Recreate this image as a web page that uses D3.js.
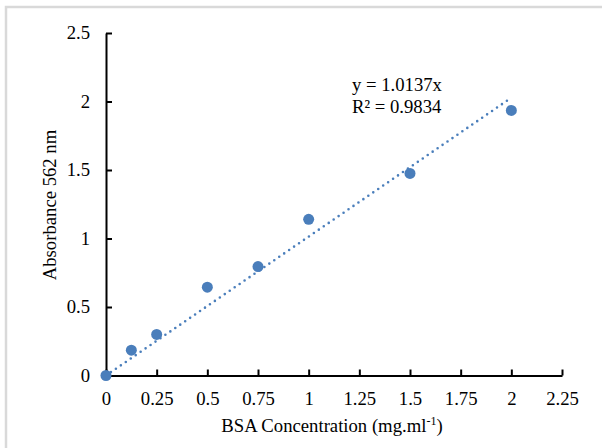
<!DOCTYPE html>
<html>
<head>
<meta charset="utf-8">
<script src="https://cdn.jsdelivr.net/npm/d3@7"></script>
<style>
  body { margin: 0; background: #fff; }
</style>
</head>
<body>
<svg id="chart"></svg>
<script>
// data
const concentration = [0, 0.125, 0.25, 0.5, 0.75, 1, 1.5, 2]
const absorbance = [0, 0.185, 0.30, 0.645, 0.795, 1.14, 1.475, 1.935]
const xTicks = [0, 0.25, 0.5, 0.75, 1, 1.25, 1.5, 1.75, 2, 2.25]
const yTicks = [0, 0.5, 1, 1.5, 2, 2.5]
const slope = 1.0137
const trendX = [0, 2]
const eqLines = ['y = 1.0137x', 'R² = 0.9834']

const
    width = 602,
    height = 448,
    plotLeft = 106, plotRight = 562,
    plotTop = 33, plotBottom = 375.5,
    fontSize = 18.7,
    blue = '#4a7ebb'

// pick the first serif face that is really installed
function pickSerif() {
    const ctx = document.createElement('canvas').getContext('2d')
    const probe = 'BSA Concentration 0.1234 Absorbance'
    const w = f => { ctx.font = `40px ${f}`; return ctx.measureText(probe).width }
    const candidates = ['Liberation Serif', 'Tinos', 'Times New Roman', 'DejaVu Serif', 'Noto Serif', 'FreeSerif']
    for (const c of candidates) {
        if (w(`"${c}", monospace`) !== w('monospace') && w(`"${c}", sans-serif`) !== w('sans-serif')) return `"${c}"`
    }
    return 'serif'
}
const serif = pickSerif()

let svg = d3.select('#chart')
    .attr('width', width)
    .attr('height', height)
    .style('font-family', serif)

// light frame (only top/left visible in the crop)
svg.append('path')
    .attr('d', `M6,${height} V7 H${width}`)
    .attr('fill', 'none')
    .attr('stroke', '#d9d9d9')
    .attr('stroke-width', 2.5)

let x = d3.scaleLinear().domain([0, 2.25]).range([plotLeft, plotRight])
let y = d3.scaleLinear().domain([0, 2.5]).range([plotBottom, plotTop])

// trendline
svg.append('line')
    .attr('x1', x(trendX[0])).attr('y1', y(slope * trendX[0]))
    .attr('x2', x(trendX[1])).attr('y2', y(slope * trendX[1]))
    .attr('stroke', blue)
    .attr('stroke-width', 2.6)
    .attr('stroke-linecap', 'round')
    .attr('stroke-dasharray', '0 6')

// axes
let xAxis = svg.append('g')
    .attr('transform', `translate(0,${plotBottom})`)
    .call(d3.axisBottom(x).tickValues(xTicks).tickSizeInner(-6).tickSizeOuter(0).tickPadding(16)
        .tickFormat(d => d3.format('')(d)))
let yAxis = svg.append('g')
    .attr('transform', `translate(${plotLeft},0)`)
    .call(d3.axisLeft(y).tickValues(yTicks).tickSizeInner(-6).tickSizeOuter(0).tickPadding(16)
        .tickFormat(d => d3.format('')(d)))

for (const g of [xAxis, yAxis]) {
    g.attr('font-family', serif).attr('font-size', fontSize)
    g.select('.domain').attr('stroke', '#000').attr('stroke-width', 2)
    g.selectAll('.tick line').attr('stroke', '#000').attr('stroke-width', 2)
    g.selectAll('.tick text').attr('fill', '#000')
}
xAxis.selectAll('.tick text').attr('dy', '0.71em')

// points
svg.selectAll('circle')
    .data(concentration)
    .enter()
    .append('circle')
        .attr('cx', d => x(d))
        .attr('cy', (d, i) => y(absorbance[i]))
        .attr('r', 5.5)
        .attr('fill', blue)

// equation label
svg.selectAll('.eq')
    .data(eqLines)
    .enter()
    .append('text')
        .attr('class', 'eq')
        .attr('x', 352)
        .attr('y', (d, i) => 91 + i * 22)
        .attr('font-size', fontSize)
        .text(d => d)

// axis titles
let xt = svg.append('text')
    .attr('x', 332)
    .attr('y', 432)
    .attr('text-anchor', 'middle')
    .attr('font-size', fontSize)
xt.append('tspan').text('BSA Concentration (mg.ml')
xt.append('tspan').attr('dy', -7).attr('font-size', 12).text('-1')
xt.append('tspan').attr('dy', 7).text(')')

svg.append('text')
    .attr('transform', `translate(56,205) rotate(-90)`)
    .attr('text-anchor', 'middle')
    .attr('font-size', fontSize)
    .text('Absorbance 562 nm')
</script>
</body>
</html>
